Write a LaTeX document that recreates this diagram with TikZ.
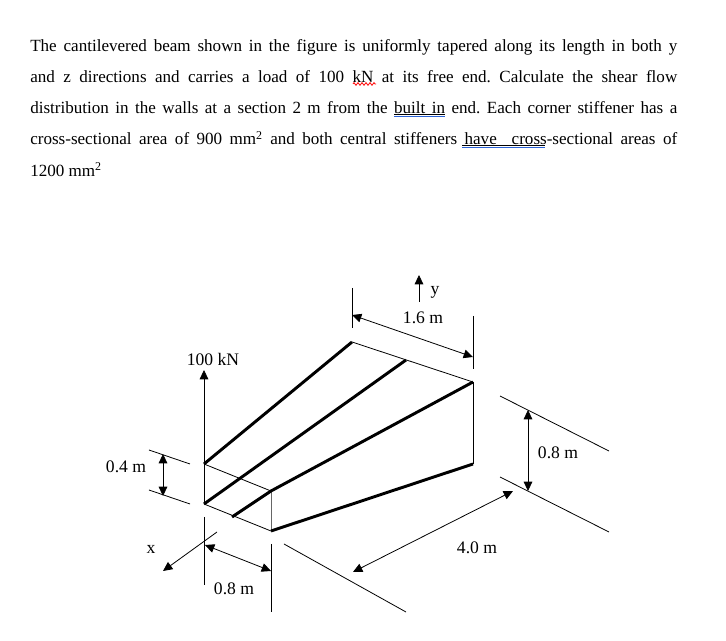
\documentclass[tikz,border=0pt]{standalone}
\usepackage{fontspec}
\setmainfont{Liberation Serif}
\usetikzlibrary{arrows.meta,decorations.pathmorphing}
\definecolor{grammarblue}{HTML}{2A62D6}
\tikzset{
  >={Triangle[length=7pt,width=6.5pt]},
  stiffener/.style={line width=2.2pt},
  edgeline/.style={line width=0.6pt},
  dimline/.style={line width=0.6pt},
  dimlabel/.style={font=\fontsize{13.2}{15}\selectfont,inner sep=0pt},
  bodytext/.style={anchor=north west,inner sep=0pt,text width=485.25pt,align=justify},
  grammarline/.style={draw=grammarblue,line width=1pt},
  wordline/.style={draw=black,line width=0.6pt}
}
\begin{document}
\begin{tikzpicture}[x=0.75pt,y=-0.75pt]
  \useasboundingbox (0,0) rectangle (726,641);
  \node[bodytext] (problem) at (30,39) {\fontsize{12.8}{23.4}\selectfont\frenchspacing
    The cantilevered beam shown in the figure is uniformly tapered along its length in both y\linebreak
    and z directions and carries a load of 100 kN at its free end. Calculate the shear flow\linebreak
    distribution in the walls at a section 2 m from the built in end. Each corner stiffener has a\linebreak
    cross-sectional area of 900 mm\textsuperscript{2} and both central stiffeners have\ \ cross-sectional areas of\linebreak
    1200 mm\textsuperscript{2}\par};
  \draw[wordline] (394,114.5) -- (445,114.5);
  \draw[grammarline] (394,116.8) -- (445,116.8);
  \draw[wordline] (462,145) -- (545,145);
  \draw[grammarline] (462,147.3) -- (545,147.3);
  \draw[red,line width=0.6pt,decorate,decoration={zigzag,amplitude=1pt,segment length=3pt}] (353,84) -- (376,84);

  \coordinate (a) at (204,464);
  \coordinate (b) at (204,504);
  \coordinate (c) at (271,491);
  \coordinate (d) at (271,531);
  \coordinate (e) at (352,342);
  \coordinate (f) at (406,360);
  \coordinate (g) at (473,382);
  \coordinate (h) at (473,464);
  \coordinate (s) at (232,517);
  \coordinate (p) at (204,370);

  \draw[edgeline] (a) -- (c);
  \draw[edgeline] (b) -- (d);
  \draw[edgeline] (a) -- (b);
  \draw[edgeline,black!60] (c) -- (d);
  \draw[edgeline] (e) -- (g);
  \draw[edgeline] (g) -- (h);
  \draw[stiffener] (a) -- (e);
  \draw[stiffener] (b) -- (f);
  \draw[stiffener] (s) -- (c) -- (g);
  \draw[stiffener] (d) -- (h);

  \draw[dimline,->] (a) -- (p);
  \node[dimlabel] (load) at (213,359) {100 kN};

  \coordinate (y0) at (419,302);
  \coordinate (y1) at (419,275);
  \draw[dimline,->] (y0) -- (y1);
  \node[dimlabel] (ylabel) at (435,292) {y};

  \coordinate (t1) at (352,288);
  \coordinate (t2) at (352,328);
  \coordinate (t3) at (473,316);
  \coordinate (t4) at (473,369);
  \coordinate (w1) at (352,315);
  \coordinate (w2) at (473,357);
  \draw[dimline] (t1) -- (t2);
  \draw[dimline] (t3) -- (t4);
  \draw[dimline,<->] (w1) -- (w2);
  \node[dimlabel] (widthtop) at (423,318) {1.6 m};

  \coordinate (r1) at (500,396);
  \coordinate (r2) at (609,451);
  \coordinate (r3) at (500,477);
  \coordinate (r4) at (609,532);
  \coordinate (r5) at (528,410);
  \coordinate (r6) at (528,491);
  \draw[dimline] (r1) -- (r2);
  \draw[dimline] (r3) -- (r4);
  \draw[dimline,<->] (r5) -- (r6);
  \node[dimlabel] (heightroot) at (558,453) {0.8 m};

  \coordinate (l1) at (284,544);
  \coordinate (l2) at (406,612);
  \coordinate (l3) at (513,491);
  \coordinate (l4) at (353,572);
  \draw[dimline] (l1) -- (l2);
  \draw[dimline,<->] (l3) -- (l4);
  \node[dimlabel] (length) at (477,548) {4.0 m};

  \coordinate (q1) at (149,450);
  \coordinate (q2) at (190,464);
  \coordinate (q3) at (149,490);
  \coordinate (q4) at (190,504);
  \coordinate (q5) at (163,454);
  \coordinate (q6) at (163,496);
  \draw[dimline] (q1) -- (q2);
  \draw[dimline] (q3) -- (q4);
  \draw[dimline,<->] (q5) -- (q6);
  \node[dimlabel] (heighttip) at (126,467) {0.4 m};

  \coordinate (x0) at (217,532);
  \coordinate (x1) at (163,571);
  \draw[dimline,->] (x0) -- (x1);
  \node[dimlabel] (xlabel) at (151,549) {x};

  \coordinate (v1) at (204,517);
  \coordinate (v2) at (204,585);
  \coordinate (v3) at (271,544);
  \coordinate (v4) at (271,612);
  \coordinate (v5) at (205,545);
  \coordinate (v6) at (271,571);
  \draw[dimline] (v1) -- (v2);
  \draw[dimline] (v3) -- (v4);
  \draw[dimline,<->] (v5) -- (v6);
  \node[dimlabel] (widthtip) at (234,589) {0.8 m};
\end{tikzpicture}
\end{document}
